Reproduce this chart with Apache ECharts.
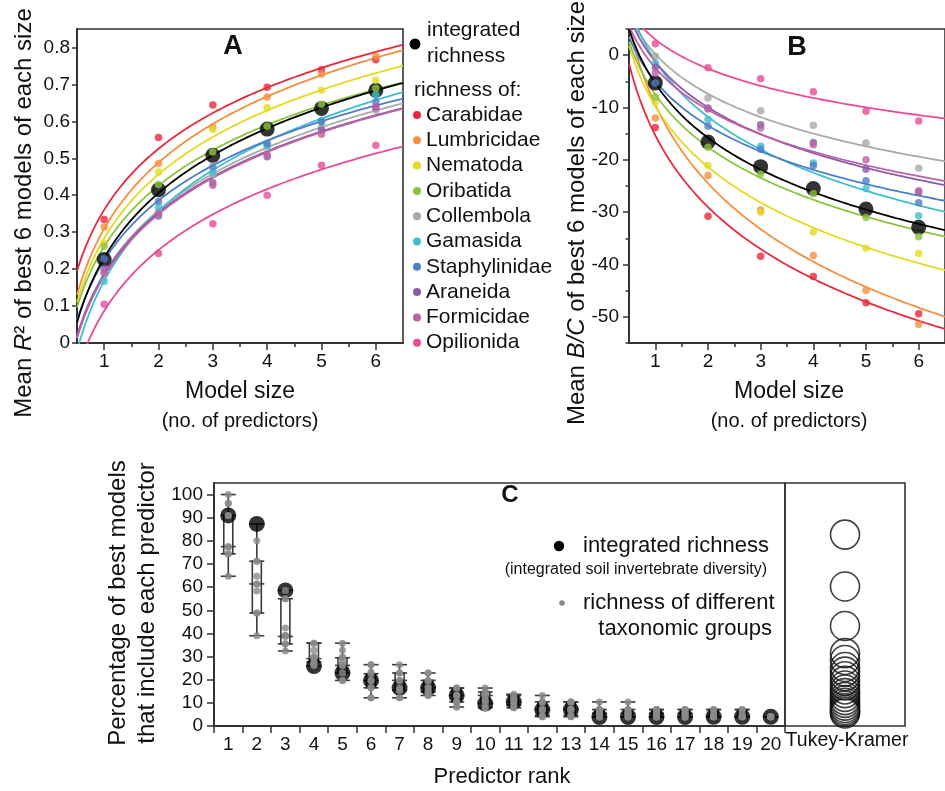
<!DOCTYPE html>
<html><head><meta charset="utf-8">
<script src="https://cdn.jsdelivr.net/npm/echarts@6/dist/echarts.min.js"></script>
<style>html,body{margin:0;padding:0;background:#fff}#c{width:945px;height:791px}</style>
</head><body><div id="c"></div>
<script>
// ---------------- DATA ----------------
const modelSizes = [1, 2, 3, 4, 5, 6];
const taxa = ['Carabidae','Lumbricidae','Nematoda','Oribatida','Collembola','Gamasida','Staphylinidae','Araneida','Formicidae','Opilionida'];
const taxaColors = ['#e8283c','#f68e3e','#e3da20','#8cc43f','#a9a9a9','#3fbfcc','#4c7fc8','#8d5aa7','#bb62a6','#e84c98'];

// Panel A: mean R2 by model size
const r2Integrated    = [0.226, 0.415, 0.508, 0.579, 0.635, 0.684];
const r2Carabidae     = [0.334, 0.556, 0.644, 0.692, 0.740, 0.767];
const r2Lumbricidae   = [0.314, 0.486, 0.585, 0.666, 0.728, 0.776];
const r2Nematoda      = [0.270, 0.463, 0.578, 0.637, 0.684, 0.711];
const r2Oribatida     = [0.262, 0.429, 0.517, 0.587, 0.646, 0.689];
const r2Collembola    = [0.190, 0.355, 0.457, 0.530, 0.585, 0.630];
const r2Gamasida      = [0.167, 0.368, 0.462, 0.535, 0.602, 0.671];
const r2Staphylinidae = [0.228, 0.384, 0.477, 0.540, 0.599, 0.653];
const r2Araneida      = [0.201, 0.344, 0.434, 0.504, 0.576, 0.639];
const r2Formicidae    = [0.190, 0.350, 0.427, 0.510, 0.565, 0.637];
const r2Opilionida    = [0.105, 0.242, 0.323, 0.400, 0.481, 0.535];

// Panel B: mean B/C by model size
const bcIntegrated    = [-5.3, -16.6, -21.3, -25.5, -29.4, -32.9];
const bcCarabidae     = [-13.8, -30.8, -38.4, -42.3, -47.3, -49.4];
const bcLumbricidae   = [-12.0, -23.0, -29.6, -38.3, -44.9, -51.4];
const bcNematoda      = [-9.0, -21.1, -30.0, -33.8, -36.9, -37.9];
const bcOribatida     = [-8.0, -17.6, -22.7, -26.5, -31.0, -34.7];
const bcCollembola    = [-0.2, -8.2, -10.6, -13.4, -16.8, -21.6];
const bcGamasida      = [-1.5, -12.3, -17.4, -20.6, -25.5, -30.7];
const bcStaphylinidae = [-5.3, -13.6, -18.0, -21.1, -24.0, -28.2];
const bcAraneida      = [-2.3, -10.1, -13.3, -16.7, -21.8, -26.2];
const bcFormicidae    = [-3.4, -10.3, -13.9, -17.1, -20.0, -25.9];
const bcOpilionida    = [2.2, -2.4, -4.5, -7.0, -10.7, -12.6];

// Panel C: percentage of best models including each predictor rank
const ranks = ['1','2','3','4','5','6','7','8','9','10','11','12','13','14','15','16','17','18','19','20'];
const pctIntegrated = [91, 87.3, 58.6, 25.9, 22.9, 19.7, 16.5, 16.5, 13.2, 9.7, 10.4, 7.1, 7.1, 3.9, 3.9, 3.9, 3.9, 4.0, 4.0, 4.0];
const pctTaxa = [
  [100, 96.3, 91, 77.5, 77.5, 74.4, 74.4, 64.7, 91, 96.3],
  [80.1, 71.2, 71.2, 64.7, 61.4, 58.3, 48.8, 48.8, 39, 61.4],
  [58.6, 55, 55, 42.3, 39.1, 38.7, 35.5, 35.5, 32.4, 39.1],
  [35.8, 32.7, 29.8, 29.1, 27.6, 26.2, 35.8, 29.8, 27.6, 26.2],
  [35.8, 32.7, 29.8, 27.6, 26.2, 19.7, 29.5, 26.2, 22.9, 19.7],
  [26.5, 23.3, 19.7, 16.5, 12.2, 26.5, 22.6, 19.7, 16.5, 12.2],
  [26.5, 22.9, 19.7, 15.4, 12.2, 22.9, 19.7, 15.4, 12.2, 16.5],
  [22.9, 19.7, 16.5, 14.7, 13.2, 19.7, 16.5, 14.7, 13.2, 22.9],
  [16.4, 13.2, 10.4, 8.2, 16.4, 13.2, 10.4, 8.2, 13.2, 10.4],
  [16.4, 14.7, 13.2, 11, 7.9, 13.2, 11, 9.7, 7.9, 14.7],
  [13.7, 11.9, 10.4, 7.9, 13.2, 11.9, 10.4, 7.9, 9.0, 11.9],
  [13.2, 10.4, 7.1, 4.0, 10.4, 7.1, 4.6, 4.0, 7.1, 10.4],
  [10.4, 7.1, 4.0, 10.4, 7.1, 4.6, 4.0, 7.1, 10.4, 7.1],
  [10.4, 7.1, 5.5, 3.9, 7.1, 5.5, 3.9, 3.9, 5.5, 7.1],
  [10.4, 7.1, 5.5, 3.9, 7.1, 5.5, 3.9, 3.9, 5.5, 7.1],
  [7.1, 5.5, 3.9, 7.1, 5.5, 3.9, 3.9, 5.5, 7.1, 3.9],
  [7.1, 5.5, 3.9, 7.1, 5.5, 3.9, 3.9, 5.5, 7.1, 3.9],
  [7.1, 4.0, 4.0, 5.3, 4.0, 4.0, 7.1, 4.0, 4.0, 4.0],
  [7.1, 4.0, 4.0, 5.3, 4.0, 4.0, 7.1, 4.0, 4.0, 4.0],
  [4.0, 4.0, 4.0, 4.0, 4.0, 4.0, 4.0, 4.0, 4.0, 4.0]
];
const boxMin = [64.7, 39, 32.4, 25.9, 19.7, 12.2, 12.2, 13.2, 8.2, 7.9, 7.9, 4.0, 4.0, 3.9, 3.9, 3.9, 3.9, 4.0, 4.0, 4.0];
const boxQ1  = [74.4, 48.8, 35.5, 27.6, 22.9, 16.5, 15.4, 14.7, 10.4, 9.7, 9.0, 4.6, 4.6, 3.9, 3.9, 3.9, 3.9, 4.0, 4.0, 4.0];
const boxMed = [77.5, 61.4, 38.7, 29.1, 26.2, 19.7, 19.7, 16.5, 13.2, 13.2, 10.4, 7.1, 7.1, 5.5, 5.5, 5.5, 5.5, 4.0, 4.0, 4.0];
const boxQ3  = [91, 71.2, 55, 35.8, 29.5, 22.6, 22.9, 19.7, 16.4, 14.7, 13.2, 10.4, 10.4, 7.1, 7.1, 7.1, 7.1, 7.1, 7.1, 4.0];
const boxMax = [100, 87.3, 58.6, 35.8, 35.8, 26.5, 26.5, 22.9, 16.4, 16.4, 13.7, 13.2, 10.4, 10.4, 10.4, 7.1, 7.1, 7.1, 7.1, 4.0];
// Tukey-Kramer comparison circles (centres)
const tukeyMeans = [82.7, 60.3, 43.2, 31.5, 28.5, 25.5, 23.5, 21.5, 19.5, 17.5, 15.8, 14.2, 12.6, 11.2, 10.0, 8.8, 7.8, 6.9, 6.1, 5.4];

// tick values
const r2Ticks = [0, 0.1, 0.2, 0.3, 0.4, 0.5, 0.6, 0.7, 0.8];
const bcTicks = [-50, -40, -30, -20, -10, 0];
const bcMinorTicks = [-55, -45, -35, -25, -15, -5, 5];
const halfTicks = [1.5, 2.5, 3.5, 4.5, 5.5];
const pctTicks = [0, 10, 20, 30, 40, 50, 60, 70, 80, 90, 100];

// ---------------- BUILD ----------------
const FONT = '"Liberation Sans", Arial, Helvetica, sans-serif';
const INK = '#111';
const FRAME = '#333';

const r2Taxa = [r2Carabidae, r2Lumbricidae, r2Nematoda, r2Oribatida, r2Collembola, r2Gamasida, r2Staphylinidae, r2Araneida, r2Formicidae, r2Opilionida];
const bcTaxa = [bcCarabidae, bcLumbricidae, bcNematoda, bcOribatida, bcCollembola, bcGamasida, bcStaphylinidae, bcAraneida, bcFormicidae, bcOpilionida];

// logarithmic least-squares trend line of the read points (as in the figure)
function fitLog(xs, ys) {
  const n = xs.length, lx = xs.map(Math.log);
  const mx = lx.reduce((a, b) => a + b, 0) / n, my = ys.reduce((a, b) => a + b, 0) / n;
  let sxy = 0, sxx = 0;
  for (let i = 0; i < n; i++) { sxy += (lx[i] - mx) * (ys[i] - my); sxx += (lx[i] - mx) * (lx[i] - mx); }
  const b = sxy / sxx;
  return { a: my - b * mx, b: b };
}
function trend(ys) {
  const f = fitLog(modelSizes, ys), pts = [];
  for (let k = 0; k <= 120; k++) { const x = 0.5 + k * 0.05; pts.push([x, f.a + f.b * Math.log(x)]); }
  return pts;
}
function panelSeries(xi, yi, taxaVals, integ) {
  const s = [];
  taxa.forEach((t, k) => s.push({ type: 'line', name: t, xAxisIndex: xi, yAxisIndex: yi, data: trend(taxaVals[k]),
    showSymbol: false, symbol: 'none', clip: true, silent: true, z: 2,
    lineStyle: { color: taxaColors[k], width: 1.8 }, itemStyle: { color: taxaColors[k] } }));
  s.push({ type: 'line', name: 'integrated richness', xAxisIndex: xi, yAxisIndex: yi, data: trend(integ),
    showSymbol: false, symbol: 'none', clip: true, silent: true, z: 3, lineStyle: { color: '#000', width: 1.8 }, itemStyle: { color: '#000' } });
  s.push({ type: 'scatter', name: 'integrated richness', xAxisIndex: xi, yAxisIndex: yi,
    data: modelSizes.map((x, i) => [x, integ[i]]), symbolSize: 15, itemStyle: { color: '#000' }, z: 4 });
  taxa.forEach((t, k) => s.push({ type: 'scatter', name: t, xAxisIndex: xi, yAxisIndex: yi,
    data: modelSizes.map((x, i) => [x, taxaVals[k][i]]), symbolSize: 7.5, itemStyle: { color: taxaColors[k] }, z: 5 }));
  return s;
}

const labelStyle = { fontSize: 19, color: INK, fontFamily: FONT };
const lineSt = { color: FRAME, width: 2 };
const tickSt = { color: FRAME, width: 1.5 };

const xAxes = [
  { gridIndex: 0, type: 'value', min: 0.5, max: 6.5, position: 'bottom', splitLine: { show: false }, axisLine: { show: true, onZero: false, lineStyle: lineSt },
    axisTick: { show: true, customValues: modelSizes, length: 7, lineStyle: tickSt }, axisLabel: Object.assign({ customValues: modelSizes, margin: 9 }, labelStyle) },
  { gridIndex: 0, type: 'value', min: 0.5, max: 6.5, position: 'bottom', splitLine: { show: false }, axisLine: { show: false, onZero: false },
    axisTick: { show: true, customValues: halfTicks, length: 4, lineStyle: tickSt }, axisLabel: { show: false } },
  { gridIndex: 1, type: 'value', min: 0.5, max: 6.5, position: 'bottom', splitLine: { show: false }, axisLine: { show: true, onZero: false, lineStyle: lineSt },
    axisTick: { show: true, customValues: modelSizes, length: 7, lineStyle: tickSt }, axisLabel: Object.assign({ customValues: modelSizes, margin: 9 }, labelStyle) },
  { gridIndex: 1, type: 'value', min: 0.5, max: 6.5, position: 'bottom', splitLine: { show: false }, axisLine: { show: false, onZero: false },
    axisTick: { show: true, customValues: halfTicks, length: 4, lineStyle: tickSt }, axisLabel: { show: false } },
  { gridIndex: 2, type: 'category', data: ranks, boundaryGap: true, position: 'bottom', splitLine: { show: false }, axisLine: { show: true, onZero: false, lineStyle: lineSt },
    axisTick: { show: true, alignWithLabel: false, length: 7, lineStyle: tickSt, interval: 0 }, axisLabel: Object.assign({ margin: 9, interval: 0 }, labelStyle) },
  { gridIndex: 3, type: 'value', min: 0, max: 2, show: false }
];
const yAxes = [
  { gridIndex: 0, type: 'value', min: 0, max: 0.85, position: 'left', splitLine: { show: false }, axisLine: { show: true, onZero: false, lineStyle: lineSt },
    axisTick: { show: true, customValues: r2Ticks, length: 5, lineStyle: tickSt },
    axisLabel: Object.assign({ customValues: r2Ticks, margin: 7, formatter: v => v === 0 ? '0' : v.toFixed(1) }, labelStyle) },
  { gridIndex: 1, type: 'value', min: -55, max: 5, position: 'left', splitLine: { show: false }, axisLine: { show: true, onZero: false, lineStyle: lineSt },
    axisTick: { show: true, customValues: bcTicks, length: 6, lineStyle: tickSt },
    axisLabel: Object.assign({ customValues: bcTicks, margin: 10 }, labelStyle) },
  { gridIndex: 1, type: 'value', min: -55, max: 5, position: 'left', splitLine: { show: false }, axisLine: { show: false, onZero: false },
    axisTick: { show: true, customValues: bcMinorTicks, length: 3.5, lineStyle: tickSt }, axisLabel: { show: false } },
  { gridIndex: 2, type: 'value', min: 0, max: 105, position: 'left', splitLine: { show: false }, axisLine: { show: true, onZero: false, lineStyle: lineSt },
    axisTick: { show: true, customValues: pctTicks, length: 7, lineStyle: tickSt },
    axisLabel: Object.assign({ customValues: pctTicks, margin: 11 }, labelStyle) },
  { gridIndex: 3, type: 'value', min: 0, max: 105, show: false }
];

const gridBase = { show: true, borderColor: FRAME, borderWidth: 1.6, containLabel: false };
const grids = [
  Object.assign({ left: 77, top: 29, width: 326, height: 314 }, gridBase),
  Object.assign({ left: 629, top: 29, width: 325, height: 314 }, gridBase),
  Object.assign({ left: 214, top: 483, width: 571, height: 243 }, gridBase),
  Object.assign({ left: 785, top: 483, width: 120, height: 243 }, gridBase)
];

const boxData = ranks.map((r, i) => [i, boxMin[i], boxQ1[i], boxMed[i], boxQ3[i], boxMax[i]]);
const greyPts = [];
pctTaxa.forEach((vals, i) => vals.forEach(v => greyPts.push([i, v])));

const seriesC = [
  { type: 'custom', name: 'spread', xAxisIndex: 4, yAxisIndex: 3, data: boxData, silent: true, z: 2,
    encode: { x: 0, y: [1, 2, 3, 4, 5] },
    renderItem: function (params, api) {
      const i = api.value(0);
      const pts = [1, 2, 3, 4, 5].map(d => api.coord([i, api.value(d)]));
      const cx = pts[0][0], bw = 4.5, cw = 7.5;
      const st = { stroke: '#3a3a3a', lineWidth: 1.6, fill: null };
      const ch = [
        { type: 'line', shape: { x1: cx, y1: pts[0][1], x2: cx, y2: pts[1][1] }, style: st },
        { type: 'line', shape: { x1: cx, y1: pts[3][1], x2: cx, y2: pts[4][1] }, style: st },
        { type: 'rect', shape: { x: cx - bw, y: pts[3][1], width: 2 * bw, height: pts[1][1] - pts[3][1] }, style: { stroke: '#3a3a3a', lineWidth: 1.6, fill: 'none' } }
      ];
      pts.forEach(p => ch.push({ type: 'line', shape: { x1: cx - cw, y1: p[1], x2: cx + cw, y2: p[1] }, style: st }));
      return { type: 'group', children: ch };
    } },
  { type: 'scatter', name: 'integrated richness (C)', xAxisIndex: 4, yAxisIndex: 3, data: pctIntegrated.map((v, i) => [i, v]),
    symbolSize: 16, itemStyle: { color: '#000' }, z: 3 },
  { type: 'scatter', name: 'richness of different taxonomic groups', xAxisIndex: 4, yAxisIndex: 3, data: greyPts,
    symbolSize: 7, itemStyle: { color: '#8a8a8a' }, z: 4 },
  { type: 'scatter', name: 'Tukey-Kramer', xAxisIndex: 5, yAxisIndex: 4, data: tukeyMeans.map(v => [1, v]),
    symbolSize: 29, itemStyle: { color: 'rgba(0,0,0,0)', borderColor: '#111', borderWidth: 1.6 }, z: 3 }
];

function txt(x, y, text, size, opts) {
  return Object.assign({ type: 'text', x: x, y: y, silent: true,
    style: Object.assign({ text: text, fontSize: size, fontFamily: FONT, fill: INK, align: 'left', verticalAlign: 'middle' }, (opts && opts.style) || {}) },
    opts && opts.rotation ? { rotation: opts.rotation } : {});
}
const R90 = Math.PI / 2;
const graphics = [
  // panel letters
  txt(233, 47, 'A', 27, { style: { fontWeight: 'bold', align: 'center' } }),
  txt(797, 48, 'B', 27, { style: { fontWeight: 'bold', align: 'center' } }),
  txt(510, 495, 'C', 24, { style: { fontWeight: 'bold', align: 'center' } }),
  // rotated axis titles
  { type: 'text', x: 24, y: 213, rotation: R90, silent: true,
    style: { text: '{n|Mean }{i|R}{n|\u00b2 of best 6 models of each size}', fontSize: 24, fontFamily: FONT, fill: INK, align: 'center', verticalAlign: 'middle',
      rich: { n: { fontSize: 24, fontFamily: FONT, fill: INK }, i: { fontSize: 24, fontFamily: FONT, fontStyle: 'italic', fill: INK } } } },
  { type: 'text', x: 577, y: 213, rotation: R90, silent: true,
    style: { text: '{n|Mean }{i|B/C}{n| of best 6 models of each size}', fontSize: 24, fontFamily: FONT, fill: INK, align: 'center', verticalAlign: 'middle',
      rich: { n: { fontSize: 24, fontFamily: FONT, fill: INK }, i: { fontSize: 24, fontFamily: FONT, fontStyle: 'italic', fill: INK } } } },
  txt(133, 603, 'Percentage of best models\nthat include each predictor', 24, { rotation: R90, style: { align: 'center', lineHeight: 29 } }),
  // x titles
  txt(240, 392, 'Model size', 23, { style: { align: 'center' } }),
  txt(240, 421, '(no. of predictors)', 20, { style: { align: 'center' } }),
  txt(789, 392, 'Model size', 23, { style: { align: 'center' } }),
  txt(789, 421, '(no. of predictors)', 20, { style: { align: 'center' } }),
  txt(502, 777, 'Predictor rank', 22, { style: { align: 'center' } }),
  txt(847, 741, 'Tukey-Kramer', 19.5, { style: { align: 'center' } }),
  // legend A header
  { type: 'circle', shape: { cx: 415, cy: 44, r: 5.5 }, style: { fill: '#000' }, silent: true },
  txt(427, 30, 'integrated', 21),
  txt(427, 56, 'richness', 21),
  txt(414, 90, 'richness of:', 21),
  // legend C
  { type: 'circle', shape: { cx: 559, cy: 546, r: 5.2 }, style: { fill: '#000' }, silent: true },
  txt(583, 546, 'integrated richness', 22),
  txt(767, 570, '(integrated soil invertebrate diversity)', 16, { style: { align: 'right' } }),
  { type: 'circle', shape: { cx: 562, cy: 603, r: 2.8 }, style: { fill: '#8a8a8a' }, silent: true },
  txt(583, 603, 'richness of different', 22),
  txt(772, 629, 'taxonomic groups', 22, { style: { align: 'right' } })
];

const chart = echarts.init(document.getElementById('c'), null, { renderer: 'canvas' });
chart.setOption({
  animation: false,
  backgroundColor: '#fff',
  textStyle: { fontFamily: FONT },
  grid: grids,
  xAxis: xAxes,
  yAxis: yAxes,
  legend: { data: taxa.map(t => ({ name: t, icon: 'circle' })), orient: 'vertical', left: 413, top: 104,
    itemWidth: 8, itemHeight: 8, itemGap: 3.3, selectedMode: false, padding: 0,
    textStyle: { fontSize: 21, lineHeight: 22, color: INK, fontFamily: FONT } },
  series: panelSeries(0, 0, r2Taxa, r2Integrated).concat(panelSeries(2, 1, bcTaxa, bcIntegrated)).concat(seriesC),
  graphic: graphics
});
</script>
</body></html>
